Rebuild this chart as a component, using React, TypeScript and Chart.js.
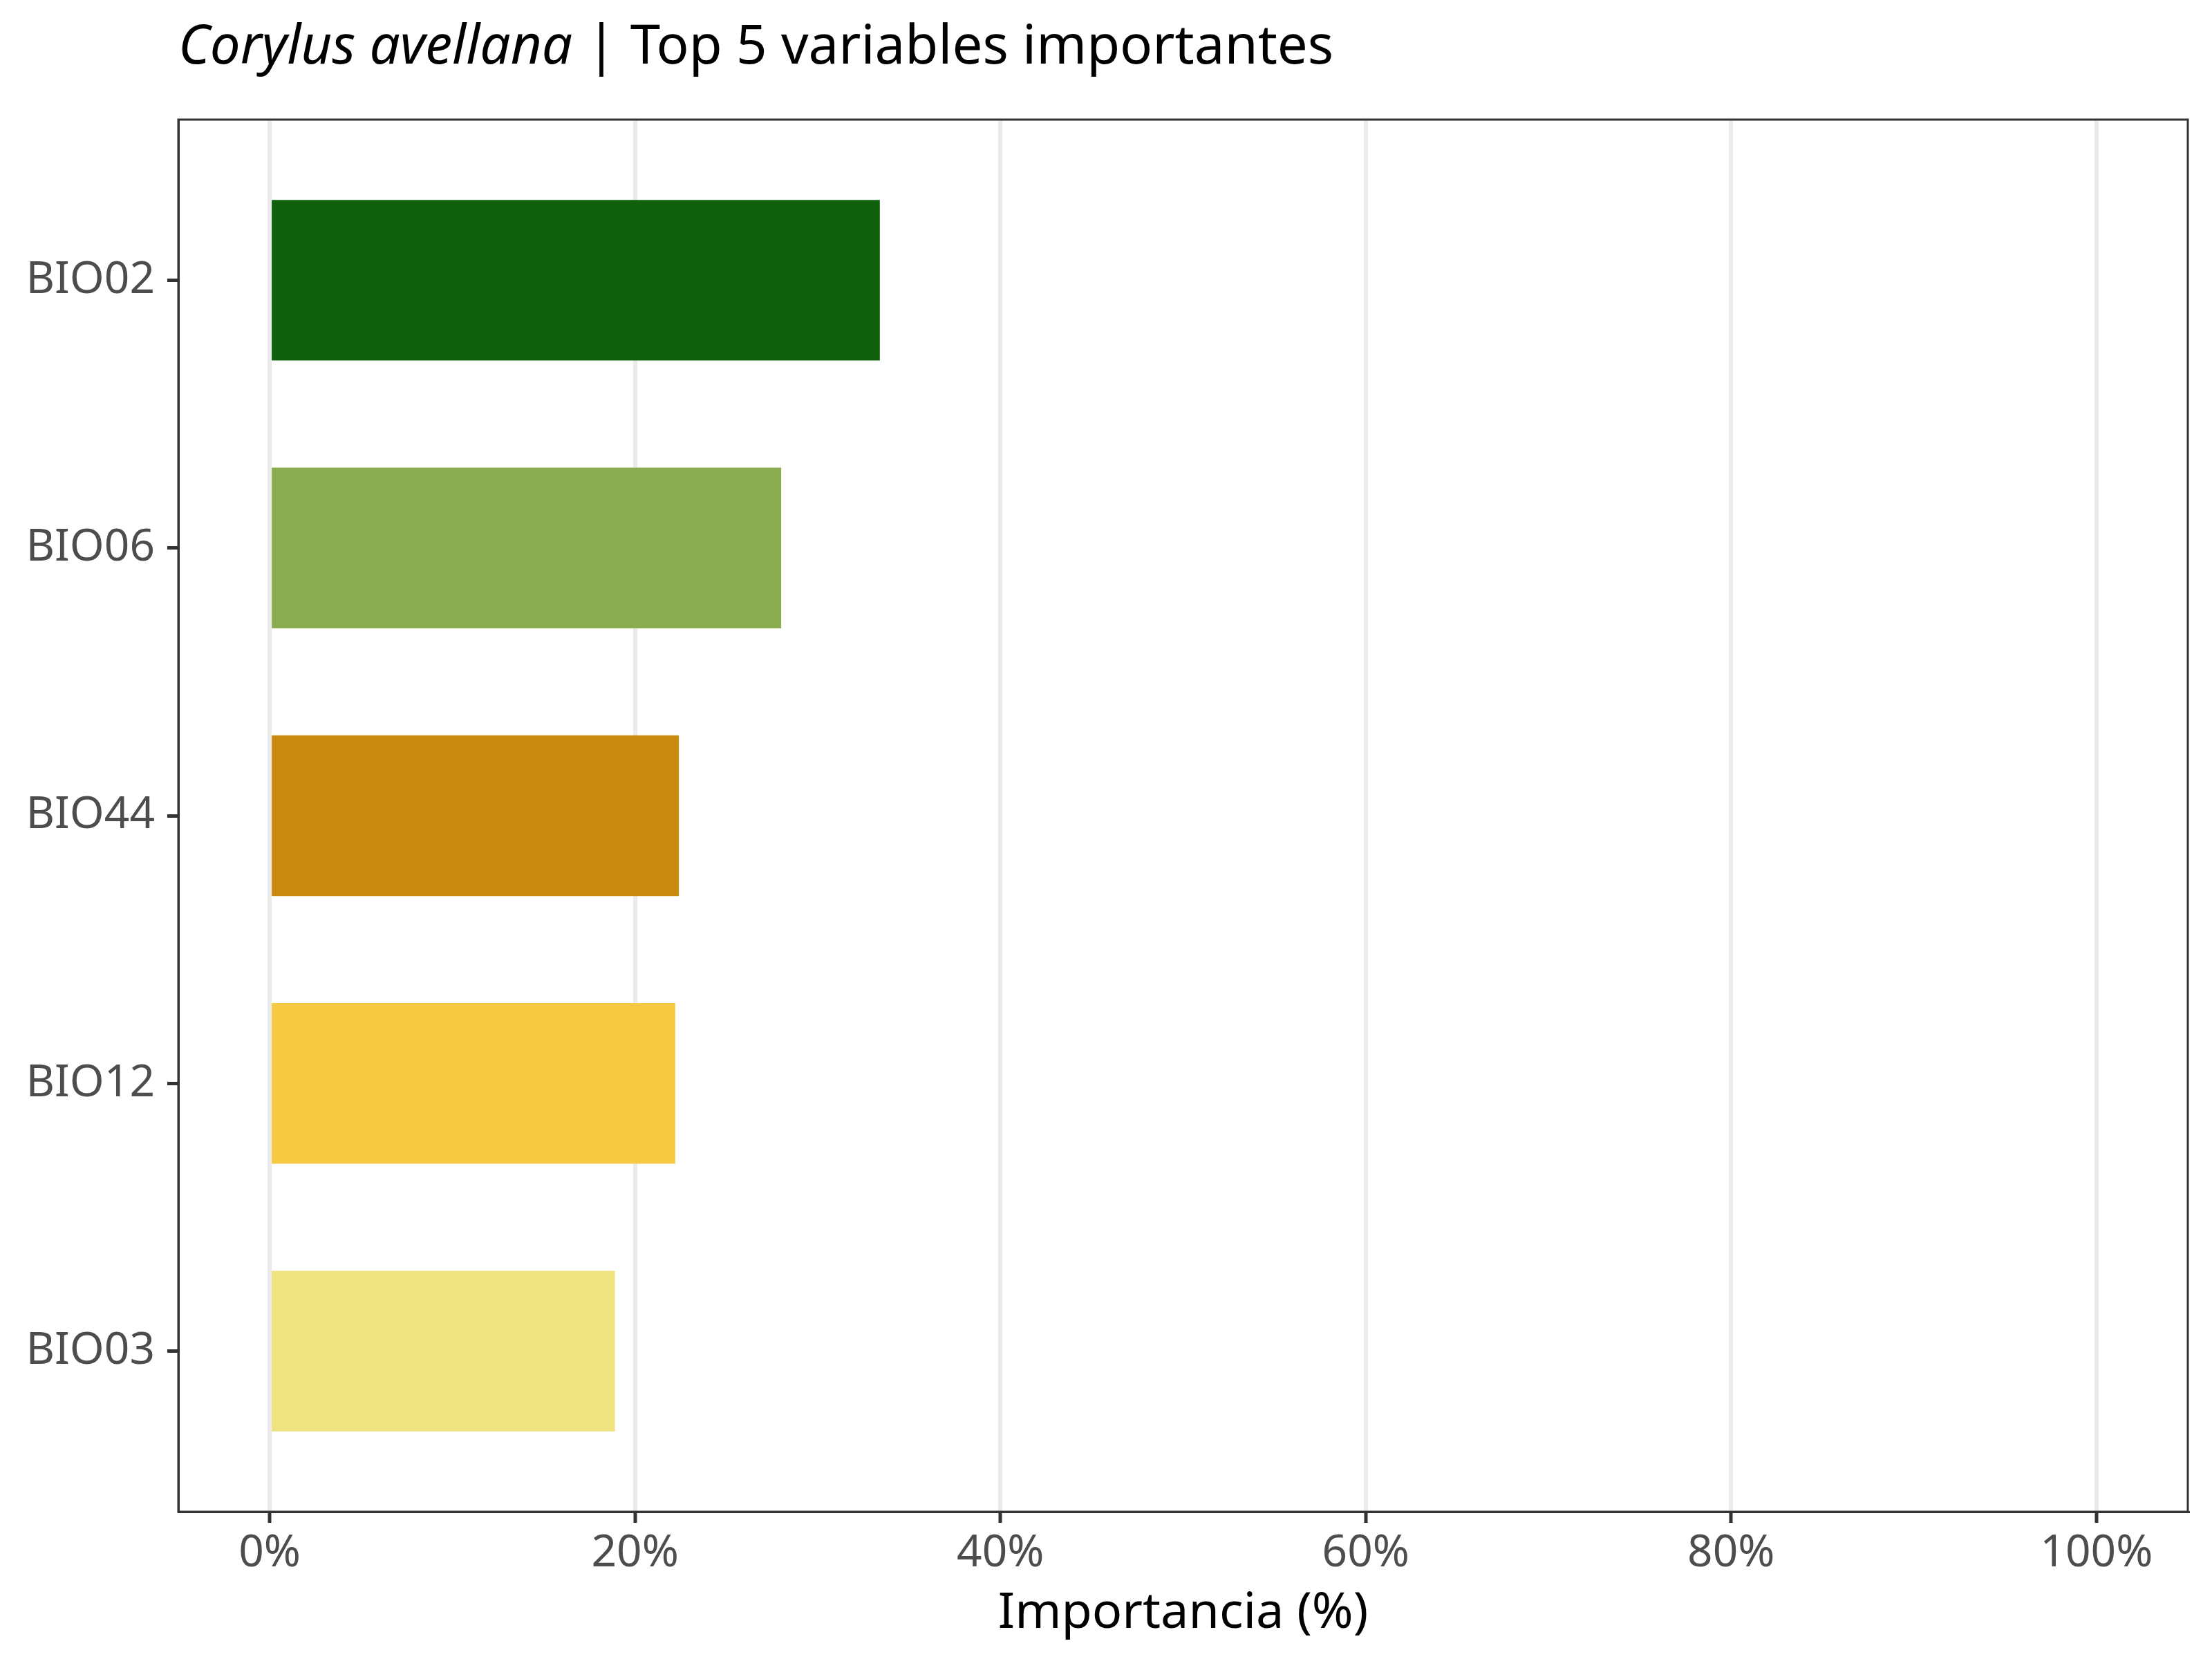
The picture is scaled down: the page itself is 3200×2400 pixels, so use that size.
import { useEffect, useRef } from 'react';
import { Chart, registerables } from 'chart.js';

Chart.register(...registerables);

const variables = ['BIO02', 'BIO06', 'BIO44', 'BIO12', 'BIO03'];
const importance = [33.4, 28.0, 22.4, 22.2, 18.9];
const barColors = ['#11600E', '#8AAD52', '#C98A0F', '#F6CA42', '#EEE37E'];
const xTicks = [0, 20, 40, 60, 80, 100];

const FONT = '"Noto Sans", "DejaVu Sans", sans-serif';

// title with italic species name, plus the full panel border (ggplot theme_bw look)
const decorPlugin = {
  id: 'decor',
  afterDraw(chart: Chart) {
    const { ctx, chartArea } = chart;
    ctx.save();
    ctx.strokeStyle = '#333333';
    ctx.lineWidth = 3;
    ctx.strokeRect(chartArea.left, chartArea.top, chartArea.right - chartArea.left, chartArea.bottom - chartArea.top);

    ctx.fillStyle = '#000000';
    ctx.textBaseline = 'alphabetic';
    ctx.textAlign = 'left';
    ctx.font = `italic 78px ${FONT}`;
    const species = 'Corylus avellana';
    ctx.fillText(species, 258, 92);
    const w = ctx.measureText(species).width;
    ctx.font = `78px ${FONT}`;
    ctx.fillText(' | Top 5 variables importantes', 258 + w, 92);
    ctx.restore();
  },
};

const App = () => {
  const chartRef = useRef<HTMLCanvasElement>(null);
  const chartInstance = useRef<Chart | null>(null);

  useEffect(() => {
    document.body.style.margin = '0';
    if (!chartRef.current) return;

    chartInstance.current = new Chart(chartRef.current, {
      type: 'bar',
      data: {
        datasets: [
          {
            data: variables.map((_, i) => ({ x: importance[i], y: i })),
            backgroundColor: barColors,
            borderWidth: 0,
            categoryPercentage: 1,
            barPercentage: 0.6,
          },
        ],
      },
      options: {
        indexAxis: 'y',
        responsive: false,
        animation: false,
        devicePixelRatio: 1,
        layout: { padding: { top: 173, right: 35, left: 0, bottom: 0 } },
        plugins: {
          legend: { display: false },
          tooltip: { enabled: false },
        },
        scales: {
          x: {
            type: 'linear',
            min: -5,
            max: 105,
            afterBuildTicks: (scale: any) => {
              scale.ticks = xTicks.map((v) => ({ value: v }));
            },
            afterFit: (scale: any) => {
              scale.height = 213;
            },
            ticks: {
              color: '#4D4D4D',
              font: { family: FONT, size: 64 },
              padding: 6,
              callback: (v: any) => `${v}%`,
            },
            grid: {
              color: '#EBEBEB',
              lineWidth: 6,
              tickColor: '#333333',
              tickWidth: 5,
              tickLength: 16,
            },
            border: { display: true, color: '#333333', width: 3 },
            title: {
              display: true,
              text: 'Importancia (%)',
              color: '#000000',
              font: { family: FONT, size: 72 },
              padding: { top: 0, bottom: 22 },
            },
          },
          y: {
            type: 'linear',
            min: -0.6,
            max: 4.6,
            reverse: true,
            offset: false,
            afterBuildTicks: (scale: any) => {
              scale.ticks = variables.map((_, i) => ({ value: i }));
            },
            afterFit: (scale: any) => {
              scale.width = 258;
            },
            ticks: {
              color: '#4D4D4D',
              font: { family: FONT, size: 64 },
              padding: 18,
              callback: (v: any) => variables[v as number],
            },
            grid: {
              offset: false,
              drawOnChartArea: false,
              tickColor: '#333333',
              tickWidth: 5,
              tickLength: 16,
            },
            border: { display: true, color: '#333333', width: 3 },
          },
        },
      },
      plugins: [decorPlugin],
    } as any);

    return () => {
      if (chartInstance.current) {
        chartInstance.current.destroy();
        chartInstance.current = null;
      }
    };
  }, []);

  return (
    <div style={{ width: 3200, height: 2400, background: '#FFFFFF' }}>
      <canvas ref={chartRef} width={3200} height={2400} />
    </div>
  );
};

export default App;
